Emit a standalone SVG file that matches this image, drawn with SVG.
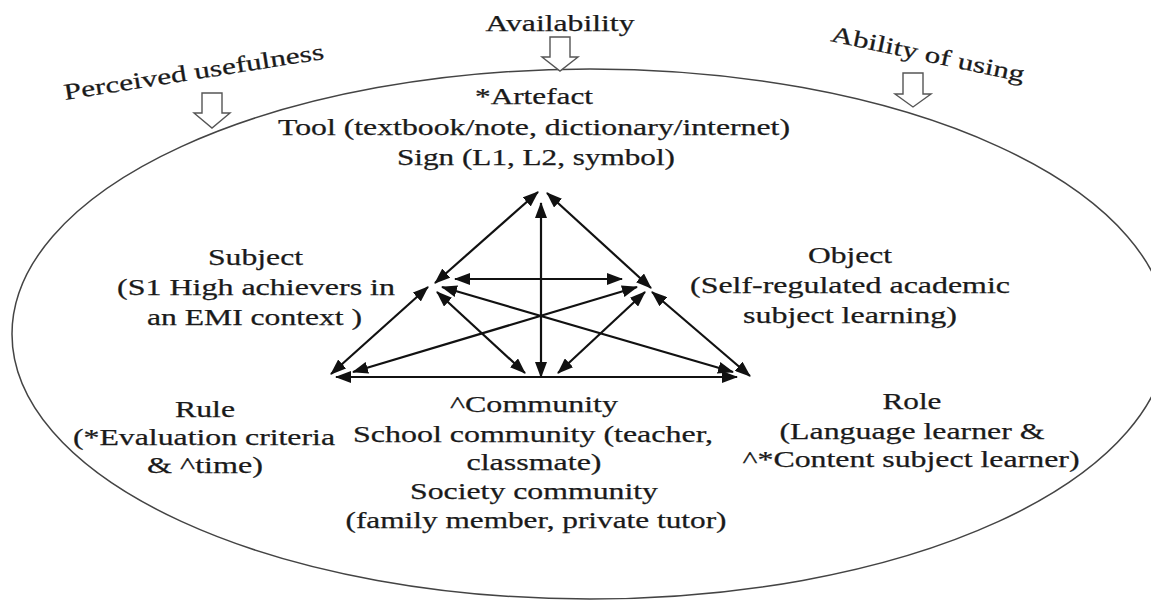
<svg xmlns="http://www.w3.org/2000/svg" width="1151" height="602" viewBox="0 0 1151 602">
  <defs>
    <style>
      text { font-family: 'Liberation Serif', 'Times New Roman', serif; font-size: 23px; fill: #1a1a1a; stroke: #1a1a1a; stroke-width: 0.25; text-anchor: middle; }
      text.ts { text-anchor: start; }
      .edge { stroke: #111; stroke-width: 2.2; fill: none; marker-start: url(#head); marker-end: url(#head); }
      .bound { fill: none; stroke: #444; stroke-width: 1.5; }
      .block { fill: #fff; stroke: #555; stroke-width: 1.4; stroke-linejoin: miter; }
    </style>
    <marker id="head" viewBox="0 0 16 12" refX="15" refY="6" markerWidth="16" markerHeight="12" markerUnits="userSpaceOnUse" orient="auto-start-reverse">
      <path d="M0,0 L16,6 L0,12 z" fill="#111"/>
    </marker>
  </defs>

  <rect width="1151" height="602" fill="#fff"/>

  <!-- activity system boundary -->
  <ellipse id="system" class="bound" cx="590" cy="334" rx="578" ry="265"/>

  <!-- external influences: label + hollow down arrow -->
  <g id="availability">
    <text x="560" y="31" textLength="149" lengthAdjust="spacingAndGlyphs">Availability</text>
    <polygon class="block" points="550,37 570,37 570,57 578,57 560,71 542,57 550,57"/>
  </g>
  <g id="perceived-usefulness">
    <text class="ts" transform="translate(65,100) rotate(-9)" textLength="263" lengthAdjust="spacingAndGlyphs">Perceived usefulness</text>
    <polygon class="block" points="202,93 222,93 222,113 230,113 212,128 194,113 202,113"/>
  </g>
  <g id="ability-of-using">
    <text class="ts" transform="translate(830,41) rotate(12)" textLength="197" lengthAdjust="spacingAndGlyphs">Ability of using</text>
    <polygon class="block" points="903,73 923,73 923,94 931,94 913,107 895,94 903,94"/>
  </g>

  <!-- triangle of mediated relations -->
  <g id="connectors">
    <line class="edge" x1="435" y1="283" x2="538" y2="192"/>
    <line class="edge" x1="547" y1="193" x2="651" y2="288"/>
    <line class="edge" x1="541" y1="203" x2="541" y2="377"/>
    <line class="edge" x1="455" y1="279" x2="622" y2="279"/>
    <line class="edge" x1="331" y1="374" x2="428" y2="287"/>
    <line class="edge" x1="652" y1="292" x2="750" y2="376"/>
    <line class="edge" x1="336" y1="377" x2="737" y2="377"/>
    <line class="edge" x1="442" y1="287" x2="733" y2="372"/>
    <line class="edge" x1="637" y1="287" x2="353" y2="372"/>
    <line class="edge" x1="437" y1="292" x2="525" y2="373"/>
    <line class="edge" x1="645" y1="292" x2="558" y2="373"/>
  </g>

  <g id="artefact">
    <text x="534" y="104" textLength="118" lengthAdjust="spacingAndGlyphs">*Artefact</text>
    <text x="534" y="135" textLength="512" lengthAdjust="spacingAndGlyphs">Tool (textbook/note, dictionary/internet)</text>
    <text x="536" y="165" textLength="278" lengthAdjust="spacingAndGlyphs">Sign (L1, L2, symbol)</text>
  </g>

  <g id="subject">
    <text x="255.5" y="265" textLength="95" lengthAdjust="spacingAndGlyphs">Subject</text>
    <text x="256" y="295" textLength="278" lengthAdjust="spacingAndGlyphs">(S1 High achievers in</text>
    <text x="254.5" y="325" textLength="215" lengthAdjust="spacingAndGlyphs">an EMI context )</text>
  </g>

  <g id="object">
    <text x="850" y="263" textLength="84" lengthAdjust="spacingAndGlyphs">Object</text>
    <text x="850" y="293" textLength="320" lengthAdjust="spacingAndGlyphs">(Self-regulated academic</text>
    <text x="850" y="323" textLength="214" lengthAdjust="spacingAndGlyphs">subject learning)</text>
  </g>

  <g id="rule">
    <text x="205" y="417" textLength="60" lengthAdjust="spacingAndGlyphs">Rule</text>
    <text x="204" y="445" textLength="262" lengthAdjust="spacingAndGlyphs">(*Evaluation criteria</text>
    <text x="205" y="473" textLength="116" lengthAdjust="spacingAndGlyphs">&amp; ^time)</text>
  </g>

  <g id="community">
    <text x="534" y="412" textLength="168" lengthAdjust="spacingAndGlyphs">^Community</text>
    <text x="533" y="442" textLength="360" lengthAdjust="spacingAndGlyphs">School community (teacher,</text>
    <text x="534" y="470" textLength="135" lengthAdjust="spacingAndGlyphs">classmate)</text>
    <text x="534" y="499" textLength="248" lengthAdjust="spacingAndGlyphs">Society community</text>
    <text x="536" y="528" textLength="381" lengthAdjust="spacingAndGlyphs">(family member, private tutor)</text>
  </g>

  <g id="role">
    <text x="912" y="409" textLength="59" lengthAdjust="spacingAndGlyphs">Role</text>
    <text x="912" y="439" textLength="265" lengthAdjust="spacingAndGlyphs">(Language learner &amp;</text>
    <text x="911" y="467" textLength="337" lengthAdjust="spacingAndGlyphs">^*Content subject learner)</text>
  </g>
</svg>
